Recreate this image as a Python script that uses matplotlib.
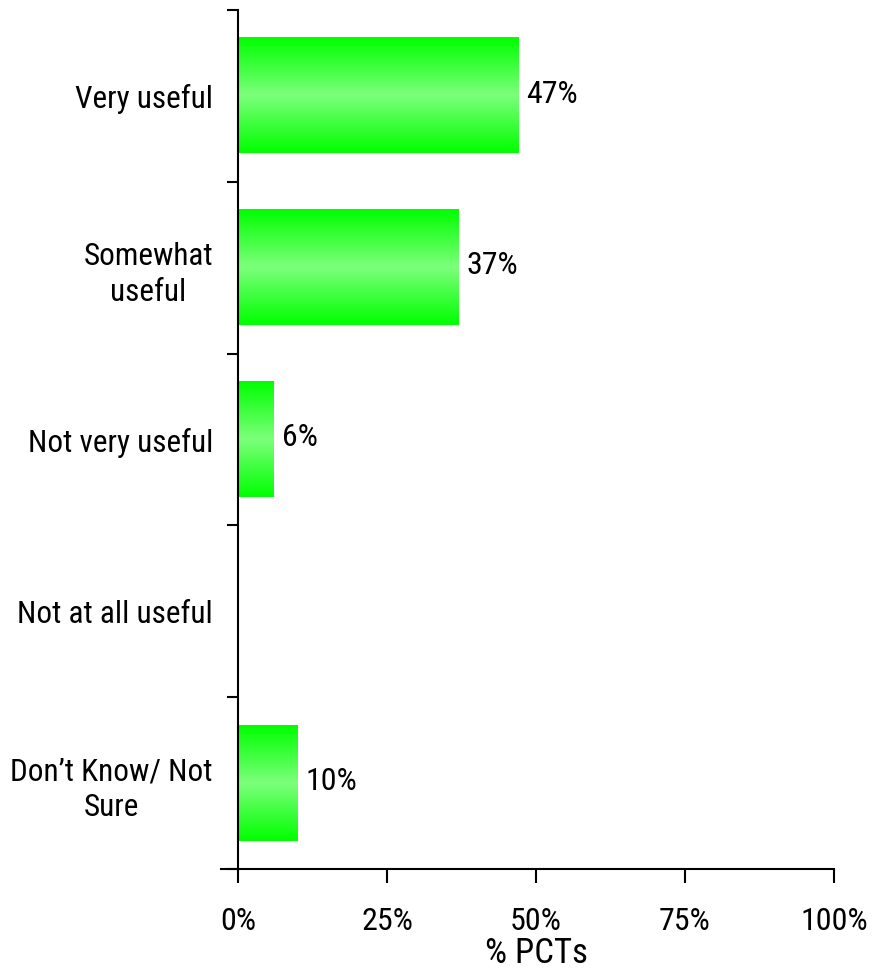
import numpy as np
import matplotlib.pyplot as plt
from matplotlib.colors import LinearSegmentedColormap

# datos
categorias = ["Very useful", "Somewhat\nuseful", "Not very useful",
              "Not at all useful", "Don\u2019t Know/ Not\nSure"]
valores = [47, 37, 6, 0, 10]
xticks = [0, 25, 50, 75, 100]
xlabels = ["0%", "25%", "50%", "75%", "100%"]

plt.rcParams['font.family'] = ['Roboto Condensed', 'Archivo Narrow', 'DejaVu Sans']

fig = plt.figure(figsize=(8.84, 9.77), dpi=100)
ax = fig.add_axes([0.2692, 0.1105, 0.9434 - 0.2692, 0.9898 - 0.1105])

# degradado vertical verde
cmap = LinearSegmentedColormap.from_list("verde", ["#00ff00", "#7cff7c", "#00ff00"])
grad = np.linspace(0, 1, 200).reshape(-1, 1)
alto = 0.67
fs = 22.5

for i, v in enumerate(valores):
    if v > 0:
        ax.imshow(grad, cmap=cmap, aspect='auto', interpolation='bilinear',
                  extent=(0, v, i + alto / 2, i - alto / 2), zorder=2)
        ax.text(v + 1.4, i - 0.01, "%d%%" % v, va='center', ha='left', fontsize=23)

ax.set_xlim(0, 100)
ax.set_ylim(4.5, -0.5)

ax.set_yticks(np.arange(-0.5, 5, 1))
ax.set_yticklabels([])
ax.set_yticks(range(len(categorias)), minor=True)
ax.set_yticklabels(categorias, minor=True, fontsize=fs, ha='right',
                   multialignment='center', linespacing=1.3)
ax.tick_params(axis='y', which='minor', length=0, pad=18)
ax.tick_params(axis='y', which='major', length=8, width=1.5, direction='out')

ax.set_xticks(xticks)
ax.set_xticklabels(xlabels, fontsize=23)
ax.tick_params(axis='x', length=10, width=1.5, direction='out', pad=17)
ax.set_xlabel("% PCTs", fontsize=25, labelpad=1)

for s in ['top', 'right']:
    ax.spines[s].set_visible(False)
ax.spines['left'].set_linewidth(1.5)
ax.spines['bottom'].set_linewidth(1.5)
ax.spines['bottom'].set_bounds(-2.9, 100)
ax.spines['bottom'].set_clip_on(False)

fig.savefig("out.png", dpi=100)
